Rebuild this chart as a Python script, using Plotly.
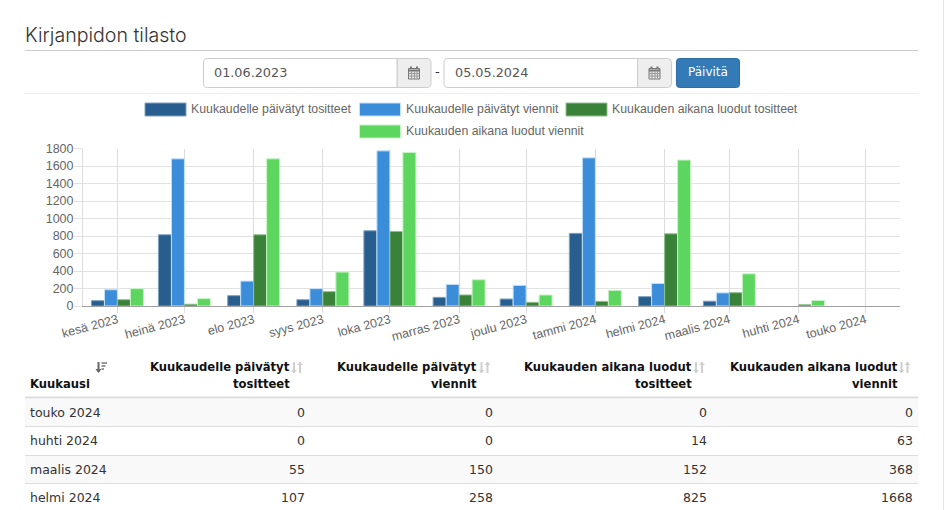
import plotly.graph_objects as go

W, H = 944, 510

# Reporting months: bars sit on the first day of each month
month_starts = ["2023-06-01", "2023-07-01", "2023-08-01", "2023-09-01", "2023-10-01", "2023-11-01",
                "2023-12-01", "2024-01-01", "2024-02-01", "2024-03-01", "2024-04-01", "2024-05-01"]
month_labels = ["kesä 2023", "heinä 2023", "elo 2023", "syys 2023", "loka 2023", "marras 2023",
                "joulu 2023", "tammi 2024", "helmi 2024", "maalis 2024", "huhti 2024", "touko 2024"]

paivatyt_tositteet = [61, 814, 118, 72, 860, 99, 80, 830, 107, 55, 0, 0]
paivatyt_viennit = [186, 1682, 285, 198, 1773, 247, 236, 1693, 258, 150, 0, 0]
luodut_tositteet = [72, 20, 814, 164, 852, 126, 42, 53, 825, 152, 14, 0]
luodut_viennit = [198, 84, 1682, 388, 1754, 300, 126, 179, 1668, 368, 63, 0]

series_names = ["Kuukaudelle päivätyt tositteet", "Kuukaudelle päivätyt viennit",
                "Kuukauden aikana luodut tositteet", "Kuukauden aikana luodut viennit"]
series_colors = ["#285e8e", "#3c8dd9", "#3a8239", "#5dd65f"]
series_edges = ["#7fa3c2", "#c4e2fa", "#8fc08e", "#c6f3c7"]
series_values = [paivatyt_tositteet, paivatyt_viennit, luodut_tositteet, luodut_viennit]

table_headers = [("Kuukaudelle päivätyt", "tositteet"), ("Kuukaudelle päivätyt", "viennit"),
                 ("Kuukauden aikana luodut", "tositteet"), ("Kuukauden aikana luodut", "viennit")]
date_from, date_to = "01.06.2023", "05.05.2024"

TEXT_FONT = "DejaVu Sans"
CHART_FONT = "Liberation Sans"


def fx(x):
    return x / W


def fy(y):
    return 1 - y / H


shapes, notes = [], []


def text(x, y, s, size=13, color="#333", anchor="left", family=TEXT_FONT, weight=None):
    font = dict(family=family, size=size, color=color)
    if weight:
        font["weight"] = weight
    notes.append(dict(x=fx(x), y=fy(y), xref="paper", yref="paper", text=s, showarrow=False,
                      xanchor=anchor, yanchor="middle", borderpad=0, borderwidth=0, font=font))


def rect(x0, y0, x1, y1, fill, line=None, lw=1, layer="above"):
    shapes.append(dict(type="rect", xref="paper", yref="paper", x0=fx(x0), x1=fx(x1), y0=fy(y0), y1=fy(y1),
                       fillcolor=fill, line=dict(color=line or fill, width=lw if line else 0), layer=layer))


def hline(x0, x1, y, color, lw=1):
    shapes.append(dict(type="line", xref="paper", yref="paper", x0=fx(x0), x1=fx(x1), y0=fy(y), y1=fy(y),
                       line=dict(color=color, width=lw), layer="above"))


def vline(x, y0, y1, color, lw=1):
    shapes.append(dict(type="line", xref="paper", yref="paper", x0=fx(x), x1=fx(x), y0=fy(y0), y1=fy(y1),
                       line=dict(color=color, width=lw), layer="above"))


def rounded(x0, y0, x1, y1, r, fill, line, left=True, right=True):
    """Box with optionally rounded left and right corners, as a paper-space path."""
    def p(x, y):
        return f"{fx(x):.5f},{fy(y):.5f}"
    rl, rr = (r if left else 0), (r if right else 0)
    path = (f"M {p(x0 + rl, y0)} L {p(x1 - rr, y0)} Q {p(x1, y0)} {p(x1, y0 + rr)} "
            f"L {p(x1, y1 - rr)} Q {p(x1, y1)} {p(x1 - rr, y1)} L {p(x0 + rl, y1)} "
            f"Q {p(x0, y1)} {p(x0, y1 - rl)} L {p(x0, y0 + rl)} Q {p(x0, y0)} {p(x0 + rl, y0)} Z")
    shapes.append(dict(type="path", xref="paper", yref="paper", path=path, fillcolor=fill,
                       line=dict(color=line, width=1), layer="above"))


def calendar_icon(cx, cy):
    c = "#777"
    rect(cx - 5.5, cy - 4.5, cx + 5.5, cy + 6, "#e8e8e8", c, 1)
    hline(cx - 5.5, cx + 5.5, cy - 2.5, c, 2)
    for dx in (-2.5, 0.5, 3):
        vline(cx + dx, cy - 2, cy + 6, "#999", 1)
    for dy in (0.5, 3):
        hline(cx - 5.5, cx + 5.5, cy + dy, "#999", 1)
    for dx in (-3, 3):
        vline(cx + dx, cy - 6.5, cy - 4, c, 2)


def date_field(x0, sep, x1, value):
    rounded(sep, 58.5, x1, 87.5, 4, "#eeeeee", "#cccccc", left=False)
    rounded(x0, 58.5, sep, 87.5, 4, "#ffffff", "#cccccc", right=False)
    text(x0 + 10.5, 73, value, size=12.8, color="#555")
    calendar_icon((sep + x1) / 2, 73)


def sort_arrows(x, y0, y1):
    """Unsorted-column hint: a down and an up arrow side by side."""
    c = "#cfcfcf"
    vline(x + 2, y0, y1, c, 2)
    vline(x + 8, y0, y1, c, 2)
    for tip, step, cx in ((y1, -3, x + 2), (y0, 3, x + 8)):
        shapes.append(dict(type="path", xref="paper", yref="paper",
                           path=f"M {fx(cx - 3)},{fy(tip + step)} L {fx(cx + 3)},{fy(tip + step)} L {fx(cx)},{fy(tip)} Z",
                           fillcolor=c, line=dict(width=0), layer="above"))


# Page header and date range controls
text(25, 35, "Kirjanpidon tilasto", size=19.6, color="#333", family="Inter", weight=300)
hline(25, 918, 50.5, "#cccccc", 1)
date_field(203.5, 397, 431, date_from)
text(437.5, 72, "-", size=13, color="#333", anchor="center")
date_field(444, 637.5, 671.5, date_to)
rounded(676.5, 58.5, 739.5, 87.5, 3, "#337ab7", "#2e6da4")
text(708, 72.5, "Päivitä", size=12, color="#ffffff", anchor="center")
hline(25, 918, 93.5, "#eeeeee", 1)

# Legend, laid out in two centred rows
legend_slots = [(145, 109.5), (359.5, 109.5), (566, 109.5), (359.5, 131.5)]
for (lx, ly), name, col, edge in zip(legend_slots, series_names, series_colors, series_edges):
    rect(lx, ly - 6.5, lx + 41, ly + 6.5, col, edge, 1)
    text(lx + 46, ly - 0.5, name, size=12.3, color="#666", family=CHART_FONT)

# Statistics table: the newest four months, newest first
header_ends = [290, 477.5, 692, 897.5]
cell_ends = [304.5, 492.5, 706.5, 912.5]
row_tops = [398.5, 427, 456, 484]
row_bottoms = [426, 455, 483, 510]
text(30, 383.5, "<b>Kuukausi</b>", size=11.6, color="#111")
for end, (first, second) in zip(header_ends, table_headers):
    text(end, 366.5, f"<b>{first}</b>", size=11.6, color="#111", anchor="right")
    text(end, 383.5, f"<b>{second}</b>", size=11.6, color="#111", anchor="right")
    sort_arrows(end + 2, 362, 373)

# Active sort indicator on the month column
vline(98.5, 362, 372, "#666", 2)
shapes.append(dict(type="path", xref="paper", yref="paper",
                   path=f"M {fx(95.5)},{fy(369)} L {fx(101.5)},{fy(369)} L {fx(98.5)},{fy(373)} Z",
                   fillcolor="#666", line=dict(width=0), layer="above"))
for i, x_end in enumerate((107, 105.5, 104)):
    hline(101.5, x_end, 363 + i * 3, "#777", 1.5)

hline(25, 918, 397.5, "#dddddd", 2)
rows = list(range(len(month_labels) - 1, len(month_labels) - 5, -1))
for r, idx in enumerate(rows):
    top, bottom = row_tops[r], row_bottoms[r]
    if r % 2 == 0:
        rect(25, top, 918, bottom, "#f9f9f9", layer="below")
    if r < len(rows) - 1:
        hline(25, 918, bottom + 0.5, "#dddddd", 1)
    mid = (412.5, 440.5, 469, 497.5)[r]
    text(30, mid, month_labels[idx], size=12.5, color="#333")
    for end, vals in zip(cell_ends, series_values):
        text(end, mid, str(vals[idx]), size=12.5, color="#333", anchor="right")

# Scrollbar edge along the right of the page
rect(943, 0, 944, 510, "#e6e6e6")

fig = go.Figure()
for name, vals, col, edge in zip(series_names, series_values, series_colors, series_edges):
    # Empty months get no outline, so nothing shows on the baseline
    edge_widths = [1 if v > 0 else 0 for v in vals]
    fig.add_trace(go.Bar(x=month_starts, y=vals, name=name,
                         marker=dict(color=col, line=dict(color=edge, width=edge_widths))))

fig.update_layout(
    width=W, height=H, margin=dict(l=0, r=0, t=0, b=0), autosize=False,
    paper_bgcolor="#ffffff", plot_bgcolor="#ffffff",
    barmode="group", bargap=0.197, bargroupgap=0, showlegend=False,
    shapes=shapes, annotations=notes,
    font=dict(family=CHART_FONT, color="#666"),
    xaxis=dict(domain=[fx(83), fx(900)], type="date", automargin=False,
               range=["2023-05-16 14:00", "2024-05-16 10:00"],
               tickmode="array", tickvals=month_starts, ticktext=month_labels, tickangle=-15,
               tickfont=dict(family=CHART_FONT, size=12.5, color="#666"),
               ticks="outside", ticklen=6, tickcolor="#dcdcdc", tickwidth=1, ticklabelstandoff=-5,
               showgrid=True, gridcolor="#dcdcdc", gridwidth=1,
               showline=True, linecolor="#a0a0a0", linewidth=1, zeroline=False),
    yaxis=dict(domain=[fy(306), fy(148.5)], range=[0, 1800], tick0=0, dtick=200, automargin=False,
               tickfont=dict(family=CHART_FONT, size=12.5, color="#666"),
               ticks="outside", ticklen=8, tickcolor="#e2e2e2", tickwidth=1, ticklabelstandoff=-2,
               showgrid=True, gridcolor="#e2e2e2", gridwidth=1,
               showline=True, linecolor="#dcdcdc", linewidth=1, zeroline=False),
)

fig.write_html("out.html", config={"displayModeBar": False})
